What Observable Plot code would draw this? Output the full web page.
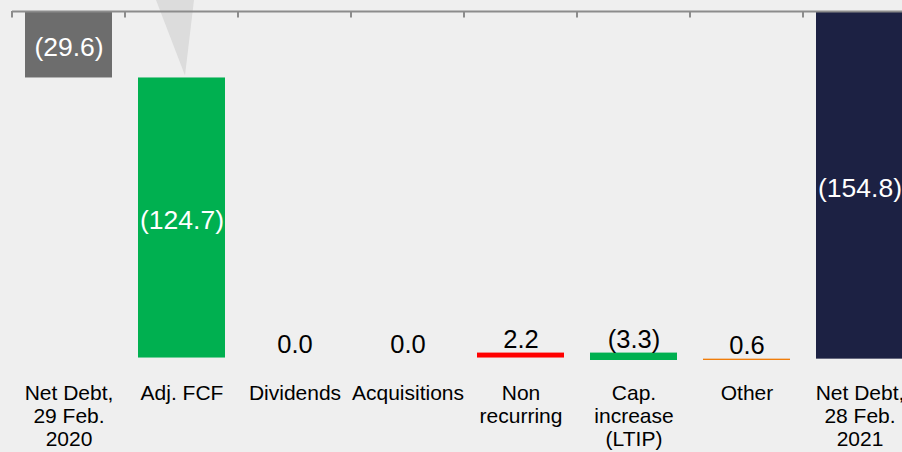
<!DOCTYPE html>
<html><head><meta charset="utf-8">
<script src="https://cdn.jsdelivr.net/npm/d3@7"></script>
<script src="https://cdn.jsdelivr.net/npm/@observablehq/plot@0.6"></script>
<style>html,body{margin:0;padding:0;background:#efefef;overflow:hidden}</style>
</head><body><div id="chart"></div>
<script>
const categories = ["Net Debt,\n29 Feb.\n2020","Adj. FCF","Dividends","Acquisitions","Non\nrecurring","Cap.\nincrease\n(LTIP)","Other","Net Debt,\n28 Feb.\n2021"];
const values = [-29.6, -124.7, 0.0, 0.0, 2.2, -3.3, 0.6, -154.8];
const kinds = ["total","delta","delta","delta","delta","delta","delta","total"];
const colors = ["#6d6d6d","#00b050","#00b050","#00b050","#ff0000","#00b050","#f07d0a","#1c2143"];
const labelInside = [true, true, false, false, false, false, false, true];

let run = 0;
const data = categories.map((c, i) => {
  let y1, y2;
  if (kinds[i] === "total") { y1 = 0; y2 = values[i]; run = values[i]; }
  else { y1 = run; y2 = run + values[i]; run = y2; }
  return {
    cat: c, value: values[i], y1, y2,
    top: Math.max(y1, y2), mid: (y1 + y2) / 2,
    color: colors[i], inside: labelInside[i],
    label: values[i] < 0 ? `(${Math.abs(values[i]).toFixed(1)})` : values[i].toFixed(1)
  };
});

function bandBounds(x) {
  const step = x.step ? x.step() : (x.bandwidth() / 0.77);
  const bw = x.bandwidth();
  const b = categories.map(c => x(c) - (step - bw) / 2);
  b.push(b[b.length - 1] + step);
  return b;
}

function triangleMark(index, scales) {
  const x = scales.x, y = scales.y;
  const cx = x(categories[1]) + x.bandwidth() / 2;
  const apexY = y(values[0]) - 2;
  const g = d3.create("svg:g");
  g.append("polygon")
    .attr("points", `${cx - 25.5},0 ${cx + 12.5},0 ${cx + 3.5},${apexY}`)
    .attr("fill", "#dcdcdc");
  return g.node();
}

function ticksMark(index, scales) {
  const x = scales.x, y = scales.y;
  const y0 = y(0);
  const g = d3.create("svg:g");
  g.selectAll("line").data(bandBounds(x)).join("line")
    .attr("x1", d => d).attr("x2", d => d)
    .attr("y1", y0).attr("y2", y0 + 6.5)
    .attr("stroke", "#8c8c8c").attr("stroke-width", 2);
  return g.node();
}

const chart = Plot.plot({
  width: 902, height: 452,
  marginTop: 11, marginBottom: 92, marginLeft: 12, marginRight: -14,
  style: {background: "#efefef", fontFamily: "'Liberation Sans', Arial, sans-serif", overflow: "hidden"},
  x: {domain: categories, paddingInner: 0.23, paddingOuter: 0.115, axis: null},
  y: {domain: [d3.min(data, d => Math.min(d.y1, d.y2)), 0], axis: null},
  color: {type: "identity"},
  marks: [
    triangleMark,
    Plot.barY(data, {x: "cat", y1: "y1", y2: "y2", fill: "color"}),
    Plot.ruleY([0], {stroke: "#8c8c8c", strokeWidth: 2}),
    ticksMark,
    Plot.axisX({anchor: "bottom", label: null, tickSize: 0, tickPadding: 23, fontSize: 21, lineHeight: 1.1, fill: "#000", textOverflow: null}),
    Plot.text(data.filter(d => d.inside), {x: "cat", y: "mid", text: "label", fill: "white", fontSize: 26.5, dy: 3}),
    Plot.text(data.filter(d => !d.inside), {x: "cat", y: "top", text: "label", fill: "#000", fontSize: 25.5, lineAnchor: "bottom", dy: -5})
  ]
});
document.getElementById("chart").appendChild(chart);
</script>
</body></html>
